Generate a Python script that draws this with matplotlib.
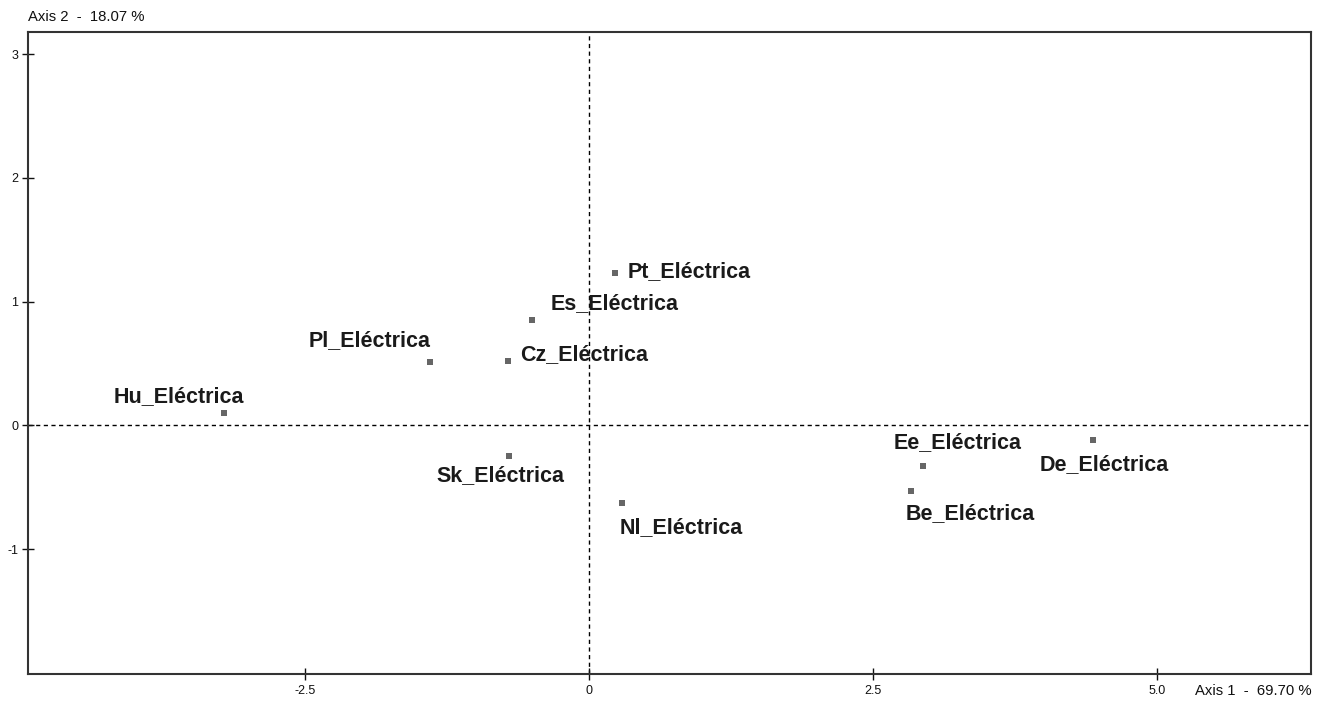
import matplotlib
matplotlib.use("Agg")
import matplotlib.pyplot as plt

plt.rcParams['font.family'] = ['Liberation Sans', 'DejaVu Sans']

names = ["Pt_Eléctrica", "Es_Eléctrica", "Pl_Eléctrica", "Cz_Eléctrica", "Hu_Eléctrica",
         "Sk_Eléctrica", "Nl_Eléctrica", "Ee_Eléctrica", "De_Eléctrica", "Be_Eléctrica"]
axis1 = [0.23, -0.50, -1.40, -0.71, -3.21, -0.70, 0.29, 2.94, 4.44, 2.84]
axis2 = [1.23, 0.85, 0.51, 0.52, 0.10, -0.25, -0.63, -0.33, -0.12, -0.53]

# label offsets in pixels (dx, dy) and horizontal alignment
offsets = [(13, 2, 'left'), (18, 17, 'left'), (1, 22, 'right'), (12, 6, 'left'),
           (20, 16, 'right'), (-9, -19, 'center'), (-2, -24, 'left'),
           (-29, 24, 'left'), (-53, -24, 'left'), (-6, -23, 'left')]

xticks = [-2.5, 0, 2.5, 5.0]
xticklabels = ["-2.5", "0", "2.5", "5.0"]
yticks = [-1, 0, 1, 2, 3]
yticklabels = ["-1", "0", "1", "2", "3"]

fig = plt.figure(figsize=(13.27, 7.02), dpi=100)
ax = fig.add_axes([0.0211, 0.0399, 0.9669, 0.9145])
ax.set_xlim(-4.94, 6.36)
ax.set_ylim(-2.01, 3.18)

ax.axhline(0, color='black', linestyle=(0, (3, 2.5)), linewidth=1.0, zorder=1)
ax.axvline(0, color='black', linestyle=(0, (3, 2.5)), linewidth=1.0, zorder=1)

ax.plot(axis1, axis2, linestyle='none', marker='s', markersize=5,
        color='#666666', markeredgewidth=0, zorder=3)

for n, x, y, (dx, dy, ha) in zip(names, axis1, axis2, offsets):
    ax.annotate(n, (x, y), xytext=(dx, dy), textcoords='offset pixels',
                ha=ha, va='center', fontsize=15.5, fontweight='bold', color='#1a1a1a')

ax.set_xticks(xticks)
ax.set_xticklabels(xticklabels)
ax.set_yticks(yticks)
ax.set_yticklabels(yticklabels)
ax.tick_params(direction='inout', length=8, width=1, labelsize=9, colors='#111111')
ax.tick_params(axis='x', pad=4)
ax.tick_params(axis='y', pad=3)
for s in ax.spines.values():
    s.set_linewidth(1.5)
    s.set_color('#333333')

fig.text(28 / 1327, 1 - 17 / 702, "Axis 2  -  18.07 %", fontsize=10.7, ha='left', va='center', color='#111111')
fig.text(1312 / 1327, 1 - 691 / 702, "Axis 1  -  69.70 %", fontsize=10.7, ha='right', va='center', color='#111111')

fig.savefig("out.png", dpi=100)
